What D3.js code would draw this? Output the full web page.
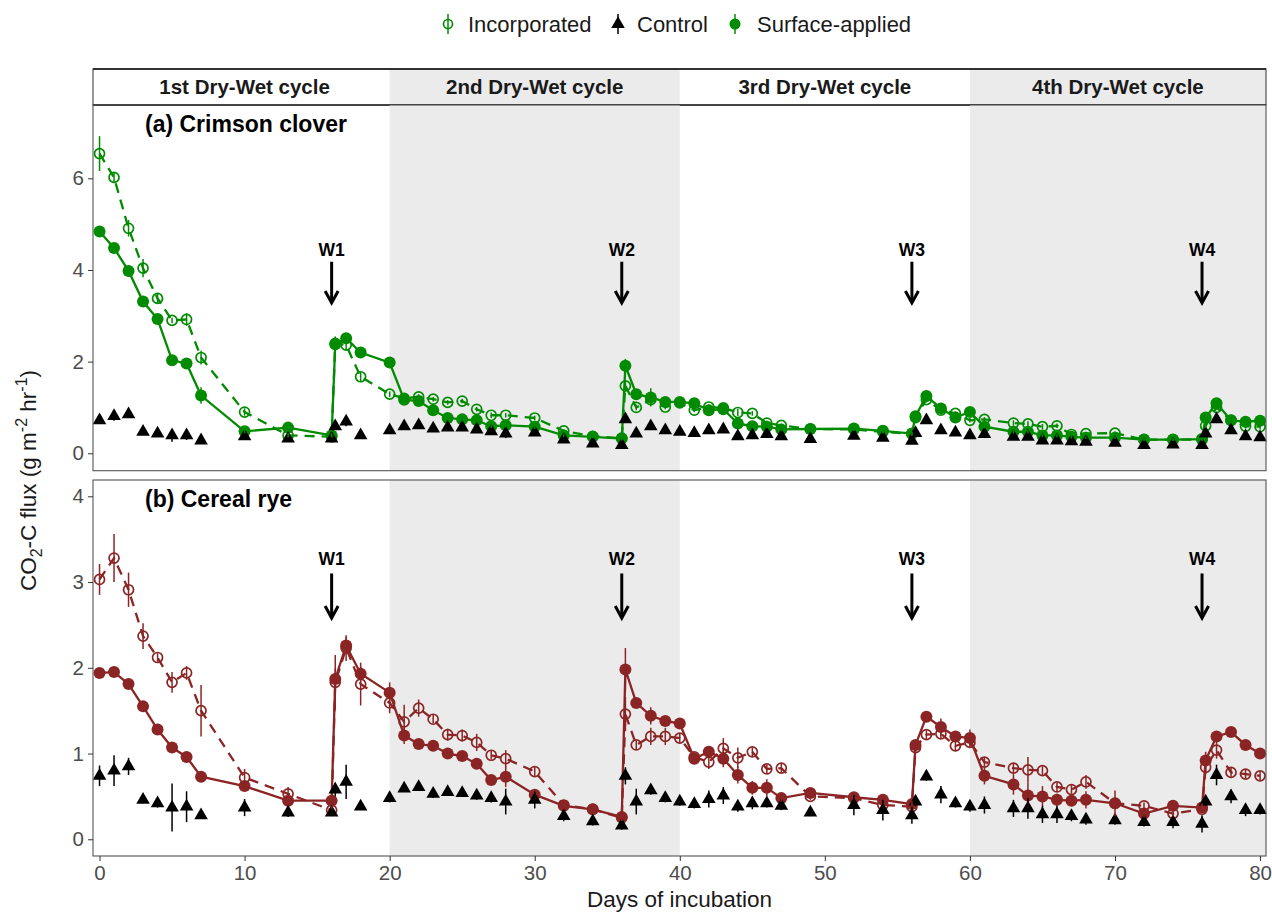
<!DOCTYPE html>
<html>
<head>
<meta charset="utf-8">
<script src="https://cdn.jsdelivr.net/npm/d3@7"></script>
<style>
  body { margin: 0; background: #fff; }
  svg { font-family: "Liberation Sans", Arial, sans-serif; }
</style>
</head>
<body>
<div id="chart"></div>
<script>
// sampling days (two readings on wetting days: before and right after water was added)
const days = [0,1,2,3,4,5,6,7,10,13,16,16.25,17,18,20,
  21,22,23,24,25,26,27,28,30,32,34,36,36.25,
  37,38,39,40,41,42,43,44,45,46,47,49,52,54,56,56.25,
  57,58,59,60,61,63,64,65,66,67,68,70,72,74,76,76.25,
  77,78,79,80];

// (a) Crimson clover
const cloverInc = [6.54,6.02,4.91,4.04,3.38,2.90,2.92,2.09,0.90,0.39,0.36,2.40,2.36,1.67,1.29,
  1.20,1.23,1.18,1.11,1.14,0.96,0.83,0.83,0.77,0.49,0.37,0.33,1.47,
  1.00,1.17,1.01,1.10,0.94,1.01,0.99,0.89,0.87,0.66,0.61,0.53,0.52,0.47,0.42,0.78,
  1.17,0.94,0.87,0.72,0.74,0.66,0.64,0.58,0.60,0.41,0.43,0.44,0.30,0.30,0.30,0.60,
  1.00,0.72,0.59,0.58];
const cloverIncSe = [0.38,0.12,0.18,0.20,0.12,0.06,0.14,0.15,0.08,0.05,0.05,0.15,0.10,0.10,0.06,
  0.05,0.06,0.05,0.05,0.05,0.05,0.06,0.05,0.05,0.04,0.03,0.03,0.12,
  0.06,0.10,0.05,0.05,0.04,0.06,0.06,0.08,0.05,0.05,0.04,0.04,0.04,0.04,0.03,0.06,
  0.06,0.06,0.05,0.05,0.05,0.06,0.06,0.06,0.05,0.05,0.04,0.04,0.03,0.03,0.03,0.05,
  0.05,0.05,0.05,0.06];
const cloverSurf = [4.84,4.48,3.98,3.31,2.93,2.03,1.96,1.26,0.48,0.56,0.39,2.38,2.51,2.20,1.98,
  1.17,1.14,0.94,0.77,0.74,0.72,0.59,0.61,0.58,0.39,0.36,0.32,1.91,
  1.29,1.22,1.12,1.12,1.09,0.94,0.96,0.65,0.59,0.58,0.52,0.53,0.54,0.49,0.43,0.81,
  1.25,0.98,0.78,0.90,0.58,0.47,0.47,0.39,0.39,0.36,0.34,0.34,0.30,0.30,0.31,0.78,
  1.09,0.72,0.69,0.71];
const cloverSurfSe = [0.05,0.04,0.05,0.06,0.06,0.05,0.05,0.18,0.06,0.05,0.05,0.14,0.06,0.07,0.12,
  0.05,0.04,0.04,0.04,0.04,0.05,0.04,0.05,0.05,0.04,0.03,0.04,0.15,
  0.05,0.20,0.08,0.05,0.05,0.10,0.04,0.04,0.04,0.04,0.04,0.04,0.04,0.04,0.04,0.06,
  0.05,0.05,0.04,0.05,0.04,0.04,0.04,0.04,0.04,0.04,0.03,0.03,0.03,0.03,0.03,0.05,
  0.05,0.04,0.04,0.04];
const cloverCtrl = [0.72,0.81,0.85,0.47,0.43,0.39,0.39,0.28,0.37,0.32,0.32,0.59,0.69,0.39,0.50,
  0.59,0.61,0.54,0.56,0.56,0.52,0.48,0.43,0.45,0.30,0.21,0.18,0.74,
  0.43,0.59,0.50,0.47,0.44,0.50,0.52,0.37,0.39,0.42,0.37,0.31,0.38,0.34,0.27,0.44,
  0.72,0.50,0.45,0.39,0.42,0.36,0.36,0.28,0.28,0.26,0.25,0.23,0.18,0.19,0.18,0.43,
  0.74,0.50,0.37,0.35];
const cloverCtrlSe = [0.06,0.10,0.04,0.03,0.03,0.14,0.10,0.03,0.07,0.03,0.03,0.04,0.10,0.03,0.03,
  0.03,0.03,0.03,0.03,0.03,0.03,0.03,0.10,0.03,0.03,0.03,0.03,0.05,
  0.07,0.04,0.03,0.03,0.03,0.06,0.03,0.06,0.08,0.05,0.03,0.03,0.07,0.07,0.03,0.03,
  0.03,0.05,0.03,0.03,0.05,0.05,0.05,0.04,0.03,0.04,0.03,0.03,0.03,0.03,0.06,0.03,
  0.08,0.03,0.03,0.03];

// (b) Cereal rye
const ryeInc = [3.03,3.28,2.91,2.37,2.12,1.83,1.94,1.50,0.72,0.53,0.34,1.83,2.23,1.81,1.59,
  1.37,1.53,1.40,1.22,1.21,1.13,0.98,0.94,0.79,0.40,0.35,0.25,1.46,
  1.10,1.20,1.20,1.18,0.96,0.90,1.06,0.95,1.02,0.82,0.83,0.50,0.48,0.40,0.38,1.07,
  1.22,1.23,1.09,1.13,0.90,0.83,0.81,0.80,0.61,0.58,0.67,0.42,0.39,0.30,0.35,0.84,
  1.04,0.78,0.76,0.74];
const ryeIncSe = [0.18,0.28,0.20,0.15,0.05,0.12,0.08,0.30,0.10,0.08,0.05,0.32,0.15,0.25,0.12,
  0.20,0.10,0.05,0.07,0.07,0.10,0.05,0.10,0.05,0.05,0.04,0.04,0.20,
  0.05,0.10,0.10,0.05,0.05,0.08,0.12,0.12,0.05,0.05,0.05,0.04,0.04,0.04,0.04,0.05,
  0.05,0.05,0.05,0.05,0.05,0.05,0.15,0.05,0.05,0.05,0.08,0.04,0.04,0.04,0.04,0.08,
  0.10,0.05,0.05,0.05];
const ryeSurf = [1.94,1.95,1.81,1.55,1.28,1.07,0.96,0.73,0.62,0.45,0.45,1.87,2.26,1.93,1.71,
  1.21,1.11,1.09,1.00,0.97,0.88,0.69,0.73,0.52,0.39,0.35,0.26,1.98,
  1.59,1.44,1.38,1.35,0.94,1.02,0.94,0.75,0.60,0.60,0.48,0.54,0.49,0.46,0.41,1.10,
  1.43,1.31,1.20,1.18,0.74,0.64,0.51,0.50,0.46,0.45,0.46,0.42,0.30,0.39,0.37,0.92,
  1.20,1.25,1.10,1.00];
const ryeSurfSe = [0.05,0.06,0.05,0.05,0.06,0.05,0.06,0.06,0.05,0.04,0.04,0.12,0.10,0.08,0.12,
  0.10,0.06,0.05,0.05,0.05,0.06,0.05,0.12,0.05,0.04,0.04,0.04,0.25,
  0.05,0.10,0.05,0.05,0.05,0.05,0.10,0.10,0.08,0.10,0.05,0.05,0.05,0.04,0.04,0.05,
  0.05,0.10,0.05,0.10,0.10,0.12,0.15,0.12,0.07,0.05,0.10,0.15,0.05,0.05,0.05,0.10,
  0.05,0.05,0.05,0.05];
const ryeCtrl = [0.74,0.80,0.85,0.46,0.42,0.37,0.38,0.28,0.37,0.31,0.31,0.58,0.67,0.38,0.48,
  0.59,0.61,0.53,0.55,0.54,0.51,0.48,0.44,0.46,0.27,0.21,0.16,0.74,
  0.44,0.57,0.48,0.44,0.41,0.47,0.51,0.38,0.42,0.42,0.39,0.31,0.40,0.34,0.28,0.44,
  0.73,0.52,0.42,0.38,0.40,0.36,0.36,0.29,0.29,0.27,0.23,0.22,0.20,0.20,0.18,0.44,
  0.75,0.50,0.34,0.34];
const ryeCtrlSe = [0.12,0.18,0.10,0.04,0.05,0.28,0.18,0.04,0.10,0.05,0.04,0.08,0.20,0.04,0.05,
  0.04,0.04,0.05,0.04,0.04,0.05,0.05,0.15,0.10,0.06,0.05,0.05,0.10,
  0.15,0.05,0.05,0.05,0.05,0.10,0.10,0.06,0.07,0.05,0.05,0.04,0.12,0.12,0.10,0.05,
  0.05,0.10,0.05,0.06,0.10,0.10,0.12,0.10,0.10,0.06,0.06,0.05,0.05,0.07,0.10,0.05,
  0.12,0.08,0.07,0.05];

const cycles = ["1st Dry-Wet cycle", "2nd Dry-Wet cycle", "3rd Dry-Wet cycle", "4th Dry-Wet cycle"];
const cycleBreaks = [0, 20, 40, 60, 80];
const wetDays = [16, 36, 56, 76];
const wetLabels = ["W1", "W2", "W3", "W4"];
const xTicks = [0, 10, 20, 30, 40, 50, 60, 70, 80];
const yTicksA = [0, 2, 4, 6];
const yTicksB = [0, 1, 2, 3, 4];

const width = 1272, height = 913;
const left = 93, right = 1266;
const stripTop = 69, stripBot = 105;

const svg = d3.select("#chart").append("svg")
  .attr("width", width)
  .attr("height", height);

const x = d3.scaleLinear().domain([-0.45, 80.41]).range([left, right]);

const panels = [
  { title: "(a) Crimson clover", top: stripBot, bottom: 470.7, domain: [-0.38, 7.6], ticks: yTicksA,
    colour: "#008B00", inc: cloverInc, incSe: cloverIncSe, surf: cloverSurf, surfSe: cloverSurfSe,
    ctrl: cloverCtrl, ctrlSe: cloverCtrlSe, wLab: 4.31, wTop: 4.18, wTip: 3.28 },
  { title: "(b) Cereal rye", top: 480, bottom: 856, domain: [-0.195, 4.19], ticks: yTicksB,
    colour: "#8B2525", inc: ryeInc, incSe: ryeIncSe, surf: ryeSurf, surfSe: ryeSurfSe,
    ctrl: ryeCtrl, ctrlSe: ryeCtrlSe, wLab: 3.2, wTop: 3.1, wTip: 2.58 }
];

// strip on top of panel (a)
const strip = svg.append("g");
cycles.forEach((c, i) => {
  const x0 = Math.max(left, x(cycleBreaks[i])), x1 = Math.min(right, x(cycleBreaks[i + 1]));
  const xe = i === cycles.length - 1 ? right : x1;
  strip.append("rect")
    .attr("x", x0).attr("y", stripTop)
    .attr("width", xe - x0).attr("height", stripBot - stripTop)
    .attr("fill", i % 2 ? "#EBEBEB" : "#fff");
  strip.append("text")
    .attr("x", (x0 + xe) / 2).attr("y", (stripTop + stripBot) / 2 + 7)
    .attr("text-anchor", "middle")
    .style("font-size", "20.5px").style("font-weight", "bold").attr("fill", "#1a1a1a")
    .text(c);
});
strip.append("rect")
  .attr("x", left).attr("y", stripTop).attr("width", right - left).attr("height", stripBot - stripTop)
  .attr("fill", "none").attr("stroke", "#333").attr("stroke-width", 1);
strip.append("line")
  .attr("x1", left).attr("x2", right).attr("y1", stripTop).attr("y2", stripTop)
  .attr("stroke", "#111").attr("stroke-width", 1.6);
strip.append("line")
  .attr("x1", left).attr("x2", right).attr("y1", stripBot).attr("y2", stripBot)
  .attr("stroke", "#111").attr("stroke-width", 1.6);

const tri = d3.symbol().type(d3.symbolTriangle).size(80);

panels.forEach(p => {
  const y = d3.scaleLinear().domain(p.domain).range([p.bottom, p.top]);
  const g = svg.append("g");

  // shaded cycles
  [[20, 40], [60, 80]].forEach(([a, b]) => {
    const xe = b === 80 ? right : x(b);
    g.append("rect")
      .attr("x", x(a)).attr("y", p.top)
      .attr("width", xe - x(a)).attr("height", p.bottom - p.top)
      .attr("fill", "#EBEBEB");
  });

  const incData = days.map((d, i) => ({ d: d, v: p.inc[i], se: p.incSe[i] }));
  const surfData = days.map((d, i) => ({ d: d, v: p.surf[i], se: p.surfSe[i] }));
  const ctrlData = days.map((d, i) => ({ d: d, v: p.ctrl[i], se: p.ctrlSe[i] }));

  const line = d3.line().x(d => x(d.d)).y(d => y(d.v));

  g.append("path").datum(incData)
    .attr("d", line).attr("fill", "none")
    .attr("stroke", p.colour).attr("stroke-width", 2.3)
    .attr("stroke-dasharray", "10,7");
  g.append("path").datum(surfData)
    .attr("d", line).attr("fill", "none")
    .attr("stroke", p.colour).attr("stroke-width", 2.3);

  g.selectAll(".inc").data(incData).enter().append("circle")
    .attr("cx", d => x(d.d)).attr("cy", d => y(d.v)).attr("r", 5)
    .attr("fill", "none").attr("stroke", p.colour).attr("stroke-width", 1.7);
  g.selectAll(".surf").data(surfData).enter().append("circle")
    .attr("cx", d => x(d.d)).attr("cy", d => y(d.v)).attr("r", 6)
    .attr("fill", p.colour);
  g.selectAll(".ctrl").data(ctrlData).enter().append("path")
    .attr("d", tri)
    .attr("transform", d => "translate(" + x(d.d) + "," + y(d.v) + ")")
    .attr("fill", "#000");

  // error bars
  [[incData, p.colour], [surfData, p.colour], [ctrlData, "#000"]].forEach(([data, col]) => {
    g.selectAll(null).data(data).enter().append("line")
      .attr("x1", d => x(d.d)).attr("x2", d => x(d.d))
      .attr("y1", d => y(d.v - d.se)).attr("y2", d => y(d.v + d.se))
      .attr("stroke", col).attr("stroke-width", 1.5);
  });

  // wetting arrows
  wetDays.forEach((w, i) => {
    const wx = x(w);
    g.append("text")
      .attr("x", wx).attr("y", y(p.wLab))
      .attr("text-anchor", "middle")
      .style("font-size", "17.5px").style("font-weight", "bold")
      .text(wetLabels[i]);
    g.append("line")
      .attr("x1", wx).attr("x2", wx).attr("y1", y(p.wTop)).attr("y2", y(p.wTip) - 1)
      .attr("stroke", "#000").attr("stroke-width", 3);
    g.append("path")
      .attr("d", "M" + (wx - 6.5) + "," + (y(p.wTip) - 12) + "L" + wx + "," + y(p.wTip) + "L" + (wx + 6.5) + "," + (y(p.wTip) - 12))
      .attr("fill", "none").attr("stroke", "#000").attr("stroke-width", 3)
      .attr("stroke-linejoin", "miter");
  });

  // panel title
  g.append("text")
    .attr("x", 145).attr("y", p.top + 27)
    .style("font-size", "23px").style("font-weight", "bold").attr("fill", "#000")
    .text(p.title);

  // border
  g.append("rect")
    .attr("x", left).attr("y", p.top).attr("width", right - left).attr("height", p.bottom - p.top)
    .attr("fill", "none").attr("stroke", "#555").attr("stroke-width", 1.1);

  // y axis
  const ya = svg.append("g")
    .attr("transform", "translate(" + left + ",0)")
    .call(d3.axisLeft(y).tickValues(p.ticks).tickSize(5).tickPadding(4).tickFormat(d3.format("d")));
  ya.select(".domain").remove();
  ya.selectAll("line").attr("stroke", "#333");
  ya.selectAll("text").attr("fill", "#4D4D4D").style("font-size", "20.5px")
    .style("font-family", "Liberation Sans, Arial, sans-serif");
});

// x axis
const xa = svg.append("g")
  .attr("transform", "translate(0,856)")
  .call(d3.axisBottom(x).tickValues(xTicks).tickSize(5).tickPadding(4));
xa.select(".domain").remove();
xa.selectAll("line").attr("stroke", "#333");
xa.selectAll("text").attr("fill", "#4D4D4D").style("font-size", "20.5px")
  .style("font-family", "Liberation Sans, Arial, sans-serif");

// axis titles
svg.append("text")
  .attr("x", (left + right) / 2).attr("y", 907)
  .attr("text-anchor", "middle").style("font-size", "22.5px").attr("fill", "#1a1a1a")
  .text("Days of incubation");

const yt = svg.append("text")
  .attr("transform", "translate(36," + ((stripBot + 856) / 2) + ") rotate(-90)")
  .attr("text-anchor", "middle").style("font-size", "22.5px").attr("fill", "#1a1a1a");
yt.append("tspan").text("CO");
yt.append("tspan").attr("dy", 6).style("font-size", "16px").text("2");
yt.append("tspan").attr("dy", -6).text("-C flux (g m");
yt.append("tspan").attr("dy", -9).style("font-size", "16px").text("-2");
yt.append("tspan").attr("dy", 9).text(" hr");
yt.append("tspan").attr("dy", -9).style("font-size", "16px").text("-1");
yt.append("tspan").attr("dy", 9).text(")");

// legend
const legend = [
  { label: "Incorporated", kind: "inc", sx: 448, tx: 468 },
  { label: "Control", kind: "ctrl", sx: 618, tx: 637 },
  { label: "Surface-applied", kind: "surf", sx: 735, tx: 757 }
];
const lg = svg.append("g");
legend.forEach(l => {
  const col = l.kind === "ctrl" ? "#000" : "#008B00";
  if (l.kind === "inc") {
    lg.append("circle").attr("cx", l.sx).attr("cy", 24).attr("r", 4.5)
      .attr("fill", "none").attr("stroke", col).attr("stroke-width", 1.6);
  } else if (l.kind === "surf") {
    lg.append("circle").attr("cx", l.sx).attr("cy", 24).attr("r", 5.5).attr("fill", col);
  } else {
    lg.append("path").attr("d", tri).attr("transform", "translate(" + l.sx + ",24)").attr("fill", col);
  }
  lg.append("line").attr("x1", l.sx).attr("x2", l.sx).attr("y1", 14).attr("y2", 34)
    .attr("stroke", col).attr("stroke-width", 1.5);
  lg.append("text").attr("x", l.tx).attr("y", 32)
    .style("font-size", "22px").attr("fill", "#1a1a1a").text(l.label);
});
</script>
</body>
</html>
